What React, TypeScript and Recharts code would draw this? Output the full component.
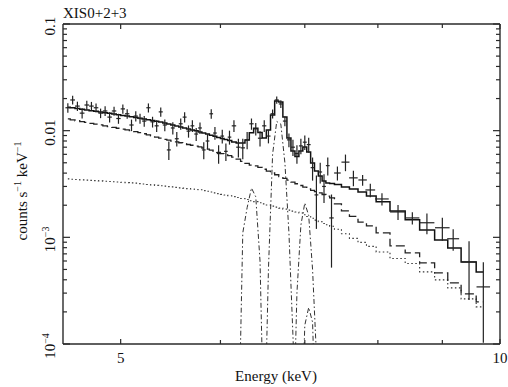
import React from 'react';
import { ComposedChart, Line, Scatter, ErrorBar, XAxis, YAxis } from 'recharts';

// bin centres (keV)
const energy = [
  4.54, 4.58, 4.62, 4.66, 4.70, 4.74, 4.78, 4.82, 4.86, 4.90,
  4.94, 4.98, 5.02, 5.06, 5.10, 5.14, 5.18, 5.22, 5.26, 5.30,
  5.34, 5.38, 5.42, 5.46, 5.50, 5.54, 5.58, 5.62, 5.66, 5.70,
  5.74, 5.78, 5.82, 5.86, 5.90, 5.94, 5.98, 6.02, 6.06, 6.10,
  6.15, 6.20, 6.25, 6.30, 6.35, 6.40, 6.45, 6.50, 6.55, 6.60,
  6.65, 6.70, 6.75, 6.80, 6.85, 6.90, 6.95, 7.00, 7.05, 7.10,
  7.15, 7.20, 7.25, 7.30,
  7.35, 7.43, 7.54, 7.65, 7.78, 7.89, 8.06, 8.30, 8.52, 8.75, 9.00, 9.18, 9.45, 9.70,
];

// half bin widths (keV)
const energyHalfWidth = [
  0.02, 0.02, 0.02, 0.02, 0.02, 0.02, 0.02, 0.02, 0.02, 0.02,
  0.02, 0.02, 0.02, 0.02, 0.02, 0.02, 0.02, 0.02, 0.02, 0.02,
  0.02, 0.02, 0.02, 0.02, 0.02, 0.02, 0.02, 0.02, 0.02, 0.02,
  0.02, 0.02, 0.02, 0.02, 0.02, 0.02, 0.02, 0.02, 0.02, 0.02,
  0.025, 0.025, 0.025, 0.025, 0.025, 0.025, 0.025, 0.025, 0.025, 0.025,
  0.025, 0.025, 0.025, 0.025, 0.025, 0.025, 0.025, 0.025, 0.025, 0.025,
  0.025, 0.025, 0.025, 0.025,
  0.03, 0.045, 0.055, 0.06, 0.06, 0.07, 0.1, 0.12, 0.11, 0.12, 0.12, 0.1, 0.13, 0.12,
];

// counts s^-1 keV^-1
const counts = [
  0.0164, 0.0194, 0.0170, 0.0146, 0.0174, 0.0170, 0.0164, 0.0146, 0.0153, 0.0134,
  0.0153, 0.0130, 0.0160, 0.0144, 0.0113, 0.0137, 0.0130, 0.0123, 0.0164, 0.0121,
  0.0111, 0.0150, 0.0113, 0.0066, 0.0106, 0.0084, 0.0116, 0.0134, 0.0099, 0.0111,
  0.0093, 0.0106, 0.0066, 0.0080, 0.0144, 0.0095, 0.0061, 0.0089, 0.0064, 0.0087,
  0.0111, 0.0070, 0.0069, 0.0082, 0.0116, 0.0104, 0.0085, 0.0111, 0.0089, 0.0144,
  0.0194, 0.0178, 0.0123, 0.0082, 0.0070, 0.0061, 0.0072, 0.0078, 0.0074, 0.0045,
  0.0025, 0.0041, 0.0030, 0.0047,
  0.00152, 0.00401, 0.00507, 0.00361, 0.00345, 0.00278, 0.00229, 0.00173, 0.00152,
  0.00137, 0.00123, 0.00097, 0.000588, 0.000343,
];

const countErr = [
  0.0017, 0.0018, 0.0017, 0.0016, 0.0017, 0.0016, 0.0016, 0.0015, 0.0016, 0.0015,
  0.0015, 0.0014, 0.0016, 0.0015, 0.0014, 0.0015, 0.0014, 0.0014, 0.0016, 0.0014,
  0.0014, 0.0015, 0.0014, 0.0013, 0.0014, 0.0013, 0.0014, 0.0015, 0.0013, 0.0014,
  0.0013, 0.0013, 0.0012, 0.0013, 0.0015, 0.0013, 0.0012, 0.0013, 0.0012, 0.0013,
  0.0014, 0.0014, 0.0015, 0.0015, 0.0014, 0.0014, 0.0014, 0.0014, 0.0013, 0.0014,
  0.0015, 0.0015, 0.0013, 0.0012, 0.0012, 0.0012, 0.0012, 0.0012, 0.0012, 0.0011,
  0.0013, 0.0009, 0.0009, 0.0009,
  0.0010, 0.0006, 0.0009, 0.0006, 0.0004, 0.0004, 0.0003, 0.00028, 0.0002,
  0.0003, 0.0003, 0.00022, 0.00033, 0.00024,
];

// total folded model (solid histogram)
const modelTotal = [
  0.0166, 0.01636, 0.01611, 0.01587, 0.01563, 0.0154, 0.0152, 0.01497, 0.01475, 0.01456,
  0.01434, 0.01413, 0.01391, 0.0137, 0.01347, 0.01327, 0.01304, 0.01285, 0.01263, 0.01244,
  0.01225, 0.01204, 0.01181, 0.01153, 0.01131, 0.01104, 0.0108, 0.0106, 0.01037, 0.01015,
  0.00996, 0.00974, 0.00951, 0.00929, 0.00907, 0.00886, 0.00865, 0.00845, 0.00825, 0.00807,
  0.00783, 0.00766, 0.00766, 0.00818, 0.00956, 0.01055, 0.00962, 0.00854, 0.01015, 0.01403,
  0.01898, 0.01858, 0.01344, 0.00854, 0.00645, 0.00573, 0.00645, 0.00703, 0.00631, 0.00498,
  0.00419, 0.00376, 0.00338, 0.00324,
  0.0032, 0.00313, 0.00297, 0.00284, 0.00266, 0.00244, 0.00215, 0.00177, 0.00146,
  0.00117, 0.000946, 0.000796, 0.000588, 0.000474,
];

// continuum component 1 (dashed)
const contDashed = [
  0.01288, 0.01263, 0.01239, 0.01217, 0.01194, 0.01171, 0.01151, 0.01131, 0.01111, 0.01092,
  0.01072, 0.01053, 0.01035, 0.01017, 0.01002, 0.00981, 0.00958, 0.00936, 0.00913, 0.00892,
  0.00871, 0.0085, 0.0083, 0.00814, 0.00799, 0.00785, 0.0077, 0.00757, 0.00742, 0.0073,
  0.00717, 0.00705, 0.00688, 0.00672, 0.00657, 0.00641, 0.00625, 0.0061, 0.00597, 0.00583,
  0.00564, 0.0054, 0.00516, 0.00493, 0.00475, 0.00467, 0.00453, 0.00435, 0.00417, 0.00401,
  0.00386, 0.00371, 0.00357, 0.00344, 0.0033, 0.00318, 0.00306, 0.00295, 0.00284, 0.00275,
  0.00268, 0.00261, 0.00252, 0.00243,
  0.00234, 0.00206, 0.00177, 0.00157, 0.00139, 0.00128, 0.0011, 0.00083, 0.000714,
  0.000575, 0.000464, 0.000374, 0.000295, 0.000248,
];

// continuum component 2 (dotted)
const contDotted = [
  0.00353, 0.0035, 0.00348, 0.00346, 0.00344, 0.00342, 0.0034, 0.00338, 0.00336, 0.00334,
  0.00332, 0.0033, 0.00328, 0.00326, 0.00324, 0.00322, 0.00319, 0.00316, 0.00313, 0.0031,
  0.00307, 0.00305, 0.00302, 0.00299, 0.00297, 0.00294, 0.00291, 0.00289, 0.00286, 0.00284,
  0.00281, 0.00279, 0.00274, 0.0027, 0.00266, 0.00261, 0.00257, 0.00253, 0.00249, 0.00245,
  0.00241, 0.00236, 0.00231, 0.00226, 0.0022, 0.00216, 0.00211, 0.00206, 0.00201, 0.00196,
  0.00192, 0.00188, 0.00184, 0.0018, 0.00176, 0.00173, 0.00169, 0.00163, 0.00157, 0.00151,
  0.00145, 0.0014, 0.00135, 0.00131,
  0.00127, 0.00119, 0.00108, 0.000977, 0.000896, 0.000822, 0.000729, 0.000634, 0.000569,
  0.000474, 0.000399, 0.000336, 0.000265, 0.000223,
];

// gaussian lines (dash-dot)
const feKaE = [6.20, 6.25, 6.30, 6.35, 6.40, 6.45, 6.50];
const feKaV = [0.00001, 0.0011, 0.0019, 0.0029, 0.0024, 0.0006, 0.00001];
const fe25E = [6.50, 6.55, 6.60, 6.65, 6.70, 6.75, 6.80, 6.85, 6.90];
const fe25V = [0.00001, 0.0005, 0.006, 0.0122, 0.0115, 0.005, 0.0011, 0.00012, 0.00001];
const fe26E = [6.85, 6.90, 6.95, 7.00, 7.05, 7.10, 7.15, 7.20];
const fe26V = [0.00001, 0.0003, 0.0013, 0.0021, 0.0016, 0.0005, 0.00008, 0.00001];
const feKbE = [6.95, 7.00, 7.05, 7.10, 7.15];
const feKbV = [0.00001, 0.00015, 0.00022, 0.00016, 0.00001];

const xTicks = [5, 6, 7, 8, 9, 10];
const xLabelled = [5, 10];
const yTicks = [
  0.0001, 0.0002, 0.0003, 0.0004, 0.0005, 0.0006, 0.0007, 0.0008, 0.0009,
  0.001, 0.002, 0.003, 0.004, 0.005, 0.006, 0.007, 0.008, 0.009,
  0.01, 0.02, 0.03, 0.04, 0.05, 0.06, 0.07, 0.08, 0.09, 0.1,
];
const yDecades = [0.0001, 0.001, 0.01, 0.1];
const yDecadeLabels = [
  { base: '10', exp: '−4' },
  { base: '10', exp: '−3' },
  { base: '0.01', exp: '' },
  { base: '0.1', exp: '' },
];

const rows = energy.map((e, i) => ({
  e,
  xerr: energyHalfWidth[i],
  y: counts[i],
  yerr: countErr[i],
  model: modelTotal[i],
  dashed: contDashed[i],
  dotted: contDotted[i],
}));

const toSeries = (es: number[], vs: number[]) => es.map((e, i) => ({ e, v: vs[i] }));
const lineKa = toSeries(feKaE, feKaV);
const line25 = toSeries(fe25E, fe25V);
const line26 = toSeries(fe26E, fe26V);
const lineKb = toSeries(feKbE, feKbV);

const FONT = '"Liberation Serif", "Times New Roman", serif';
const INK = '#2a2a2a';

const decadeIndex = (v: number) => yDecades.findIndex((d) => Math.abs(d - v) / d < 1e-6);

const BottomTick = (p: any) => {
  const v = p.payload.value;
  const lab = xLabelled.includes(v);
  return (
    <g>
      <line x1={p.x} y1={p.y} x2={p.x} y2={p.y - (lab ? 5 : 4)} stroke={INK} strokeWidth={1.2} />
      {lab && (
        <text x={p.x} y={p.y + 19} textAnchor="middle" fontSize={15} fontFamily={FONT} fill="#111">
          {v}
        </text>
      )}
    </g>
  );
};

const TopTick = (p: any) => {
  const v = p.payload.value;
  const lab = xLabelled.includes(v);
  return <line x1={p.x} y1={p.y} x2={p.x} y2={p.y + (lab ? 5 : 4)} stroke={INK} strokeWidth={1.2} />;
};

const LeftTick = (p: any) => {
  const idx = decadeIndex(p.payload.value);
  const major = idx >= 0;
  const lx = p.x - 8;
  return (
    <g>
      <line x1={p.x} y1={p.y} x2={p.x + (major ? 7 : 4)} y2={p.y} stroke={INK} strokeWidth={1.2} />
      {major && (
        <text
          x={lx}
          y={p.y + 2}
          transform={`rotate(-90 ${lx} ${p.y + 2})`}
          textAnchor="middle"
          fontSize={15}
          fontFamily={FONT}
          fill="#111"
        >
          {yDecadeLabels[idx].base}
          {yDecadeLabels[idx].exp && (
            <tspan dy={-6} fontSize={10}>
              {yDecadeLabels[idx].exp}
            </tspan>
          )}
        </text>
      )}
    </g>
  );
};

const RightTick = (p: any) => {
  const major = decadeIndex(p.payload.value) >= 0;
  return <line x1={p.x} y1={p.y} x2={p.x - (major ? 7 : 4)} y2={p.y} stroke={INK} strokeWidth={1.2} />;
};

const NoShape = () => <g />;

const axisLine = { stroke: INK, strokeWidth: 1.4 };

export default function App() {
  return (
    <div style={{ position: 'absolute', left: 0, top: 0, width: 508, height: 387, background: '#fff' }}>
      <ComposedChart width={508} height={387} data={rows} margin={{ top: 0, right: 0, bottom: 0, left: 0 }}>
        <XAxis
          dataKey="e"
          type="number"
          scale="log"
          domain={[4.5, 10]}
          allowDataOverflow
          ticks={xTicks}
          interval={0}
          height={43}
          tickSize={0}
          tickMargin={0}
          tick={(p: any) => <BottomTick {...p} />}
          axisLine={axisLine}
          label={{
            content: () => (
              <text x={276} y={381} textAnchor="middle" fontSize={15} fontFamily={FONT} fill="#111">
                Energy (keV)
              </text>
            ),
          }}
        />
        <XAxis
          xAxisId="top"
          orientation="top"
          dataKey="e"
          type="number"
          scale="log"
          domain={[4.5, 10]}
          allowDataOverflow
          ticks={xTicks}
          interval={0}
          height={24}
          tickSize={0}
          tickMargin={0}
          tick={(p: any) => <TopTick {...p} />}
          axisLine={axisLine}
          label={{
            content: () => (
              <text x={63} y={18} fontSize={15} fontFamily={FONT} fill="#111">
                XIS0+2+3
              </text>
            ),
          }}
        />
        <YAxis
          type="number"
          scale="log"
          domain={[0.0001, 0.1]}
          allowDataOverflow
          ticks={yTicks}
          interval={0}
          width={63}
          tickSize={0}
          tickMargin={0}
          tick={(p: any) => <LeftTick {...p} />}
          axisLine={axisLine}
          label={{
            content: () => (
              <text
                x={27}
                y={191}
                transform="rotate(-90 27 191)"
                textAnchor="middle"
                fontSize={15}
                fontFamily={FONT}
                fill="#111"
              >
                counts s
                <tspan dy={-6} fontSize={10}>−1</tspan>
                <tspan dy={6}> keV</tspan>
                <tspan dy={-6} fontSize={10}>−1</tspan>
              </text>
            ),
          }}
        />
        <YAxis
          yAxisId="right"
          orientation="right"
          type="number"
          scale="log"
          domain={[0.0001, 0.1]}
          allowDataOverflow
          ticks={yTicks}
          interval={0}
          width={8}
          tickSize={0}
          tickMargin={0}
          tick={(p: any) => <RightTick {...p} />}
          axisLine={axisLine}
        />

        <Line dataKey="dotted" type="step" stroke="#333" strokeWidth={1.1} strokeDasharray="1.5 2.5" dot={false} isAnimationActive={false} />
        <Line dataKey="dashed" type="step" stroke="#222" strokeWidth={1.3} strokeDasharray="9 4" dot={false} isAnimationActive={false} />
        <Line data={lineKa} dataKey="v" type="linear" stroke="#333" strokeWidth={1} strokeDasharray="5 2.5 1.5 2.5" dot={false} isAnimationActive={false} />
        <Line data={line25} dataKey="v" type="linear" stroke="#333" strokeWidth={1} strokeDasharray="5 2.5 1.5 2.5" dot={false} isAnimationActive={false} />
        <Line data={line26} dataKey="v" type="linear" stroke="#333" strokeWidth={1} strokeDasharray="5 2.5 1.5 2.5" dot={false} isAnimationActive={false} />
        <Line data={lineKb} dataKey="v" type="linear" stroke="#333" strokeWidth={1} strokeDasharray="5 2.5 1.5 2.5" dot={false} isAnimationActive={false} />
        <Line dataKey="model" type="step" stroke="#111" strokeWidth={1.5} dot={false} isAnimationActive={false} />

        <Scatter data={rows} dataKey="y" shape={NoShape} isAnimationActive={false}>
          <ErrorBar dataKey="xerr" direction="x" width={0} stroke="#222" strokeWidth={1.2} isAnimationActive={false} />
          <ErrorBar dataKey="yerr" direction="y" width={0} stroke="#222" strokeWidth={1.2} isAnimationActive={false} />
        </Scatter>
      </ComposedChart>
    </div>
  );
}
